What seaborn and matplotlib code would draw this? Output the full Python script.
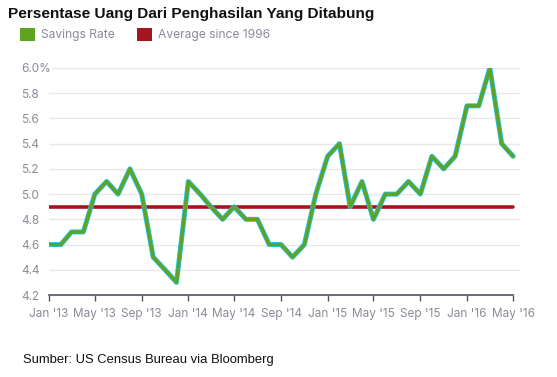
import pandas as pd
import numpy as np
import matplotlib
matplotlib.use("Agg")
import matplotlib.pyplot as plt
import matplotlib.dates as mdates
from matplotlib.patches import Patch
import seaborn as sns

# data (monthly, Jan 2013 - May 2016)
months = pd.date_range("2013-01-01", "2016-05-01", freq="MS")
savings_rate = [4.6, 4.6, 4.7, 4.7, 5.0, 5.1, 5.0, 5.2, 5.0, 4.5, 4.4, 4.3,
                5.1, 5.0, 4.9, 4.8, 4.9, 4.8, 4.8, 4.6, 4.6, 4.5, 4.6, 5.0,
                5.3, 5.4, 4.9, 5.1, 4.8, 5.0, 5.0, 5.1, 5.0, 5.3, 5.2, 5.3,
                5.7, 5.7, 6.0, 5.4, 5.3]
average_since_1996 = 4.9

x_tick_dates = pd.date_range("2013-01-01", "2016-05-01", freq="4MS")
x_tick_labels = ["Jan '13", "May '13", "Sep '13", "Jan '14", "May '14", "Sep '14",
                 "Jan '15", "May '15", "Sep '15", "Jan '16", "May '16"]
y_ticks = [4.2, 4.4, 4.6, 4.8, 5.0, 5.2, 5.4, 5.6, 5.8, 6.0]
y_tick_labels = ["4.2", "4.4", "4.6", "4.8", "5.0", "5.2", "5.4", "5.6", "5.8", "6.0%"]

title = "Persentase Uang Dari Penghasilan Yang Ditabung"
source = "Sumber: US Census Bureau via Bloomberg"

df = pd.DataFrame({"month": months, "rate": savings_rate})
df["average"] = average_since_1996

sns.set_theme(style="white")
plt.rcParams["font.family"] = ["Inter", "DejaVu Sans"]

green = "#5fa322"
red = "#a3161f"
cyan = "#22c4ee"
gray = "#8b8b99"

fig = plt.figure(figsize=(5.57, 3.77), dpi=100)
ax = fig.add_axes([49 / 557, 1 - 295 / 377, (520 - 49) / 557, (295 - 68) / 377])

sns.lineplot(data=df, x="month", y="average", ax=ax, color=red, linewidth=2.6,
             zorder=2)
sns.lineplot(data=df, x="month", y="rate", ax=ax, color=cyan, linewidth=3.6,
             zorder=3)
sns.lineplot(data=df, x="month", y="rate", ax=ax, color=green, linewidth=2.4,
             zorder=4)

ax.set_xlim(months[0], months[-1] + pd.Timedelta(days=18))
ax.set_ylim(4.2, 6.0)

ax.set_xticks(x_tick_dates)
ax.set_xticklabels(x_tick_labels)
ax.set_yticks(y_ticks)
ax.set_yticklabels(y_tick_labels)

ax.grid(axis="y", color="#e8e8ea", linewidth=1)
ax.set_axisbelow(True)
for side in ["top", "right", "left"]:
    ax.spines[side].set_visible(False)
ax.spines["bottom"].set_color("#55555f")
ax.spines["bottom"].set_linewidth(1.2)
ax.spines["bottom"].set_bounds(mdates.date2num(months[0]), mdates.date2num(months[-1]))

ax.tick_params(axis="x", bottom=True, length=4.5, width=1, color="#55555f",
               labelsize=8.5, labelcolor=gray, pad=5)
ax.tick_params(axis="y", left=False, labelsize=8.5, labelcolor=gray, pad=13.8)
for lab in ax.get_yticklabels():
    lab.set_horizontalalignment("left")
    lab.set_bbox(dict(facecolor="white", edgecolor="none", pad=0.5))
ax.set_xlabel("")
ax.set_ylabel("")

fig.text(8 / 557, 1 - 14 / 377, title, fontsize=11.1, fontweight="bold",
         color="#111111", va="center", ha="left", family=["Liberation Sans"])

handles = [Patch(facecolor=green, edgecolor="none"),
           Patch(facecolor=red, edgecolor="none")]
fig.legend(handles, ["Savings Rate", "Average since 1996"], loc="upper left",
           bbox_to_anchor=(20 / 557, 1 - 28 / 377), ncol=2, frameon=False,
           fontsize=8.7, labelcolor=gray, handlelength=1.25, handleheight=1.25,
           handletextpad=0.5, columnspacing=1.8, borderpad=0, borderaxespad=0)

fig.text(23 / 557, 1 - 360 / 377, source, fontsize=9.35, color="#111111",
         va="center", ha="left", family=["Liberation Sans"])

fig.savefig("out.png", dpi=100)
